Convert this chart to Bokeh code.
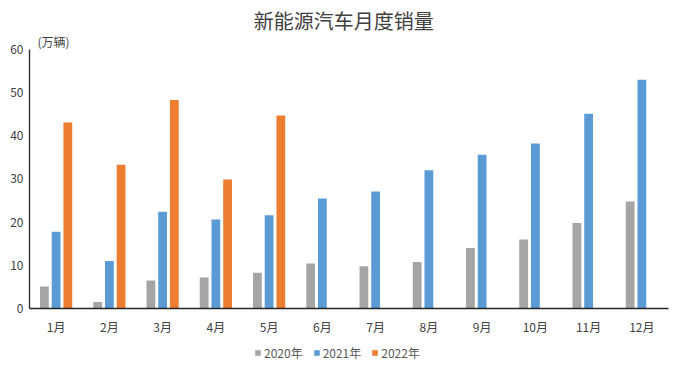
from bokeh.plotting import figure
from bokeh.layouts import column
from bokeh.models import (ColumnDataSource, Legend, LegendItem, Label, FactorRange, Range1d,
                          BoxAnnotation)
from bokeh.transform import dodge
from bokeh.embed import file_html
from bokeh.resources import INLINE

months = ["1月", "2月", "3月", "4月", "5月", "6月", "7月", "8月", "9月", "10月", "11月", "12月"]
sales_2020 = [5.1, 1.5, 6.5, 7.2, 8.3, 10.4, 9.8, 10.8, 14.0, 16.0, 19.8, 24.8]
sales_2021 = [17.8, 11.0, 22.4, 20.6, 21.6, 25.5, 27.1, 32.0, 35.6, 38.2, 45.1, 53.0]
months_2022 = ["1月", "2月", "3月", "4月", "5月"]
sales_2022 = [43.1, 33.3, 48.3, 29.9, 44.7]
series_names = ["2020年", "2021年", "2022年"]
y_ticks = [0, 10, 20, 30, 40, 50, 60]
y_max = 60

FONT = "Noto Sans CJK SC"
colors = ["#A5A5A5", "#5B9BD5", "#ED7D31"]

src_a = ColumnDataSource(dict(m=months, v20=sales_2020, v21=sales_2021))
src_b = ColumnDataSource(dict(m=months_2022, v22=sales_2022))
x_range = FactorRange(*months)

# frame extends to the top of the canvas; y-axis line is bounded to 0..60
p = figure(width=681, height=340, x_range=x_range, y_range=Range1d(0, 71.35),
           output_backend="svg", toolbar_location=None,
           min_border_left=29, min_border_right=13, min_border_top=0, min_border_bottom=32)
p.outline_line_color = None
p.xgrid.grid_line_color = None
p.ygrid.grid_line_color = None
p.title = None

offsets = [-0.22, 0.0, 0.22]
cols = ["v20", "v21", "v22"]
srcs = [src_a, src_a, src_b]


def add_bars(fig, w):
    return [fig.vbar(x=dodge("m", o, range=x_range), top=c, width=w, source=s,
                     fill_color=col, line_color=None)
            for o, c, s, col in zip(offsets, cols, srcs, colors)]


add_bars(p, 0.165)

for ax in (p.xaxis[0], p.yaxis[0]):
    ax.axis_line_color = "#262626"
    ax.axis_line_width = 1.3
    ax.major_tick_line_color = None
    ax.minor_tick_line_color = None
    ax.major_tick_out = 0
    ax.major_tick_in = 0
    ax.major_label_text_font = FONT
    ax.major_label_text_font_size = "12px"
    ax.major_label_text_color = "#404040"

p.yaxis.ticker = y_ticks
p.yaxis.bounds = (0, y_max)
p.yaxis.major_label_standoff = 6
p.xaxis.major_label_standoff = 9

p.add_layout(Label(x=5.9, y=66.7, text="新能源汽车月度销量", text_font=FONT, text_font_size="20px",
                   text_color="#404040", text_align="center", text_baseline="middle"))
p.add_layout(Label(x=0.15, y=61.9, text="(万辆)", text_font=FONT, text_font_size="12px",
                   text_color="#404040", text_align="left", text_baseline="middle"))

# legend strip below the chart (its zero-width bars lie far outside its visible y range)
q = figure(width=681, height=28, x_range=x_range, y_range=Range1d(-1000, -999),
           output_backend="svg", toolbar_location=None,
           min_border_left=0, min_border_right=0, min_border_top=0, min_border_bottom=0)
q.outline_line_color = None
q.axis.visible = False
q.grid.visible = False
q.title = None
lr = add_bars(q, 0.0)
q.add_layout(BoxAnnotation(fill_color="white", fill_alpha=1.0, line_color=None))
legend = Legend(items=[LegendItem(label=n, renderers=[r], index=0) for n, r in zip(series_names, lr)],
                orientation="horizontal", location=(225, 7),
                glyph_width=7, glyph_height=7, label_standoff=3, spacing=10,
                padding=0, margin=0, label_height=14,
                border_line_color=None, background_fill_alpha=0,
                label_text_font=FONT, label_text_font_size="12px", label_text_color="#595959")
q.add_layout(legend, "center")

open("out.html", "w").write(file_html(column(p, q, spacing=0), INLINE))
